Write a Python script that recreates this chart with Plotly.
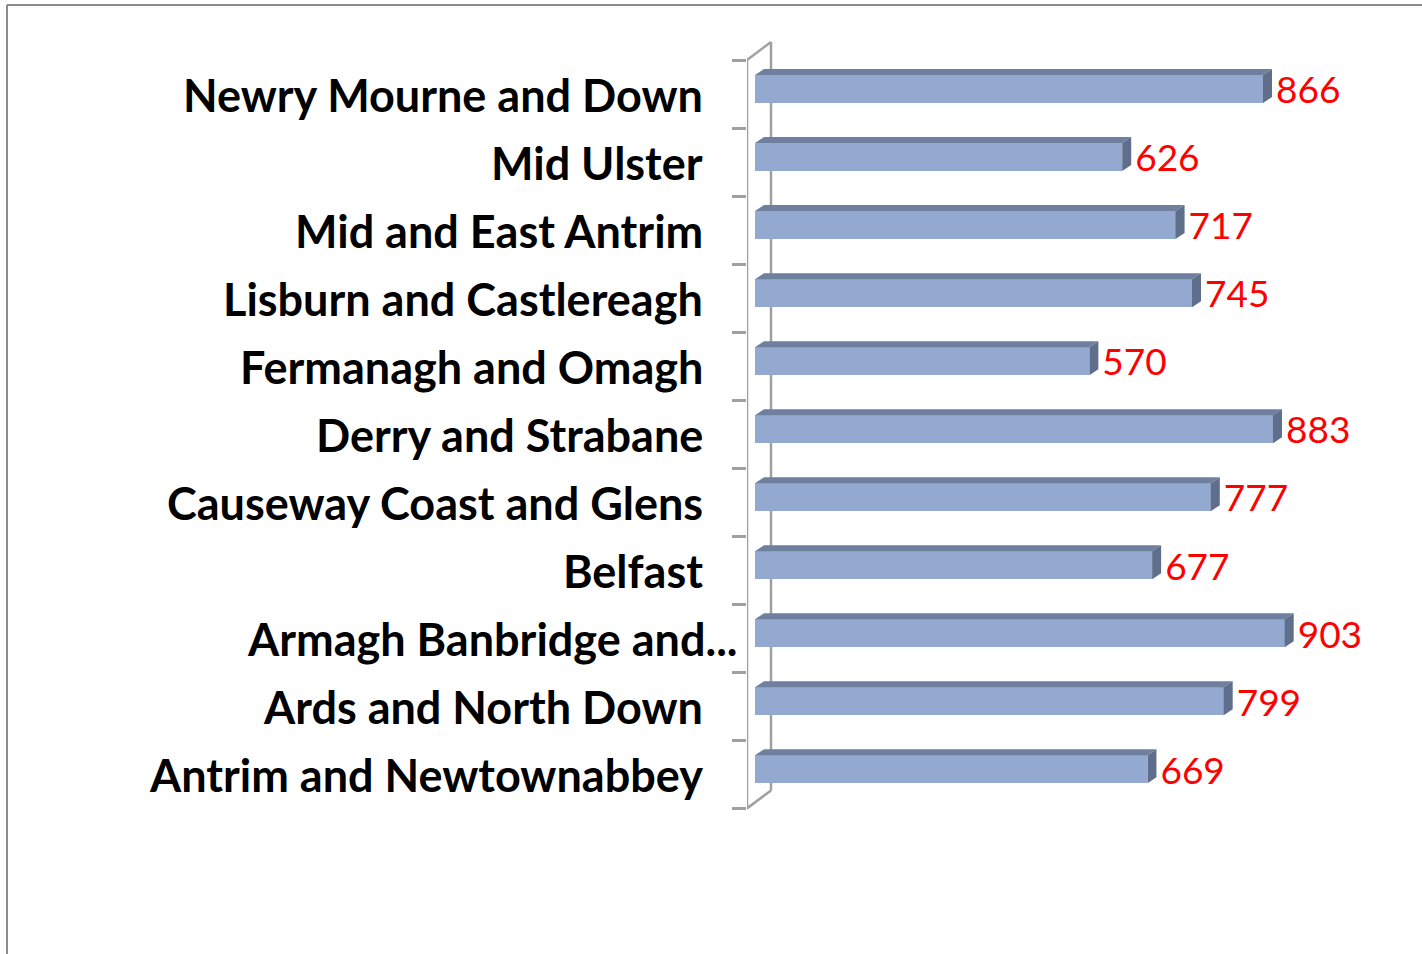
import plotly.graph_objects as go

# ---- data (bottom to top) ----
categories = [
    "Antrim and Newtownabbey",
    "Ards and North Down",
    "Armagh Banbridge and...",
    "Belfast",
    "Causeway Coast and Glens",
    "Derry and Strabane",
    "Fermanagh and Omagh",
    "Lisburn and Castlereagh",
    "Mid and East Antrim",
    "Mid Ulster",
    "Newry Mourne and Down",
]
values = [669, 799, 903, 677, 777, 883, 570, 745, 717, 626, 866]

# ---- layout constants ----
W, H = 1422, 954
ML, MR, MT, MB = 747, 22, 21, 103
plot_w = W - ML - MR
plot_h = H - MT - MB
px_per_unit = 0.5866
x0 = -8 / px_per_unit
x1 = x0 + plot_w / px_per_unit
y_lo, y_hi = -1.2, 11.0
px_per_cat = plot_h / (y_hi - y_lo)

bar_half = 14 / px_per_cat           # front face half height (in category units)
bar_dx = 9 / px_per_unit             # bar depth in x units
bar_dy = 6 / px_per_cat              # bar depth in y units

FRONT = "#94A9D0"
TOP = "#6F7F9E"
SIDE = "#5E6E8B"
AXIS = "#A0A0A0"

ypos = list(range(len(categories)))

fig = go.Figure()

# front faces
fig.add_trace(go.Bar(
    x=values, y=ypos, orientation="h", width=2 * bar_half,
    marker=dict(color=FRONT, line=dict(width=0)),
    hoverinfo="skip", showlegend=False,
))

# top and side faces (derived from data)
for yi, v in zip(ypos, values):
    yt = yi + bar_half
    yb = yi - bar_half
    fig.add_trace(go.Scatter(
        x=[0, v, v + bar_dx, bar_dx, 0],
        y=[yt, yt, yt + bar_dy, yt + bar_dy, yt],
        fill="toself", fillcolor=TOP, mode="lines", line=dict(width=0),
        hoverinfo="skip", showlegend=False,
    ))
    fig.add_trace(go.Scatter(
        x=[v, v + bar_dx, v + bar_dx, v, v],
        y=[yb, yb + bar_dy, yt + bar_dy, yt, yb],
        fill="toself", fillcolor=SIDE, mode="lines", line=dict(width=0),
        hoverinfo="skip", showlegend=False,
    ))

# value labels
label_gap = 4 / px_per_unit
label_drop = 5 / px_per_cat
fig.add_trace(go.Scatter(
    x=[v + bar_dx + label_gap for v in values], y=[yi - label_drop for yi in ypos], mode="text",
    text=[str(v) for v in values], textposition="middle right",
    textfont=dict(family="Lato", size=37, color="#FF0000"),
    hoverinfo="skip", showlegend=False,
))

# 3D axis walls
front_off = 5 / px_per_cat
yb0 = -0.5 - front_off
yb1 = len(categories) - 0.5 - front_off
wall_dx = 24 / px_per_unit
wall_dy = 18 / px_per_cat
shapes = []
line = dict(color=AXIS, width=2.5)
shapes.append(dict(type="line", xref="x", yref="y", x0=x0, x1=x0, y0=yb0, y1=yb1, line=line, layer="below"))
shapes.append(dict(type="line", xref="x", yref="y", x0=x0 + wall_dx, x1=x0 + wall_dx,
                   y0=yb0 + wall_dy, y1=yb1 + wall_dy, line=line, layer="below"))
shapes.append(dict(type="line", xref="x", yref="y", x0=x0, x1=x0 + wall_dx,
                   y0=yb0, y1=yb0 + wall_dy, line=line, layer="below"))
shapes.append(dict(type="line", xref="x", yref="y", x0=x0, x1=x0 + wall_dx,
                   y0=yb1, y1=yb1 + wall_dy, line=line, layer="below"))

# chart border (left and top)
def pxx(p):
    return (p - ML) / plot_w
def pxy(p):
    return (H - MB - p) / plot_h
border = dict(color="#8C8C8C", width=2)
shapes.append(dict(type="line", xref="paper", yref="paper", x0=pxx(7), x1=pxx(7),
                   y0=pxy(H + 5), y1=pxy(5), line=border))
shapes.append(dict(type="line", xref="paper", yref="paper", x0=pxx(7), x1=pxx(W + 5),
                   y0=pxy(5), y1=pxy(5), line=border))

# category labels (right aligned; the truncated one overflows like the original)
annotations = []
cat_drop = 6 / px_per_cat
for yi, name in zip(ypos, categories):
    right_px = 740 if name.endswith("...") else 705
    annotations.append(dict(
        xref="paper", yref="y", x=pxx(right_px), y=yi - cat_drop,
        xanchor="right", yanchor="middle", showarrow=False, text=name,
        font=dict(family="Lato", size=45, color="black", weight="bold"),
    ))

fig.update_layout(
    width=W, height=H,
    margin=dict(l=ML, r=MR, t=MT, b=MB, pad=0),
    paper_bgcolor="white", plot_bgcolor="white",
    shapes=shapes,
    annotations=annotations,
    xaxis=dict(range=[x0, x1], visible=False, fixedrange=True),
    yaxis=dict(
        range=[y_lo, y_hi], tickmode="array", tickvals=ypos, ticktext=categories,
        showticklabels=False,
        ticks="", showgrid=False, zeroline=False, showline=False,
        minor=dict(tickmode="array", tickvals=[k - 0.5 - front_off for k in range(len(categories) + 1)],
                   ticks="outside", ticklen=14, tickwidth=2.5, tickcolor=AXIS, showgrid=False),
        fixedrange=True,
    ),
    bargap=0,
)

fig.write_html("out.html")
